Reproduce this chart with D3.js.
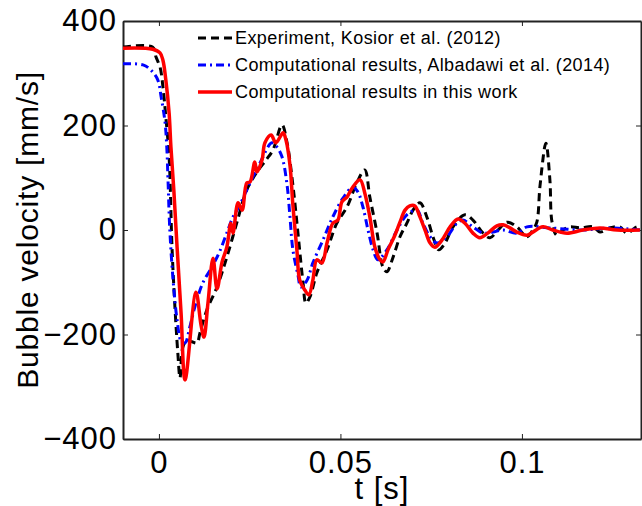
<!DOCTYPE html>
<html>
<head>
<meta charset="utf-8">
<script src="https://cdn.jsdelivr.net/npm/d3@7"></script>
<style>
  body { margin: 0; background: #fff; }
  text { font-family: "Liberation Sans", Arial, sans-serif; }
</style>
</head>
<body>
<div id="vis"></div>
<script>
const FRAME_WIDTH = 642;
const FRAME_HEIGHT = 506;
const MARGINS = {left: 123, right: 1, top: 21, bottom: 67};

// tick values
const X_TICKS = [0, 0.05, 0.1];
const Y_TICKS = [-400, -200, 0, 200, 400];

// legend labels
const LABELS = ["Experiment, Kosior et al. (2012)",
                "Computational results, Albadawi et al. (2014)",
                "Computational results in this work"];

// Experiment (black dashed)
const EXP_T = [-0.0099, -0.0017, -0.0008, 0.0003, 0.0011, 0.0019, 0.0028, 0.0036, 0.0044, 0.0052,
  0.0058, 0.0066, 0.0077, 0.0091, 0.0105, 0.0113, 0.0132, 0.0160, 0.0187, 0.0215,
  0.0242, 0.0270, 0.0295, 0.0314, 0.0339, 0.0353, 0.0369, 0.0383, 0.0397, 0.0405,
  0.0416, 0.0435, 0.0463, 0.0490, 0.0518, 0.0545, 0.0567, 0.0581, 0.0601, 0.0617,
  0.0628, 0.0645, 0.0664, 0.0683, 0.0700, 0.0719, 0.0738, 0.0755, 0.0771, 0.0788,
  0.0810, 0.0843, 0.0865, 0.0893, 0.0912, 0.0934, 0.0959, 0.0986, 0.1014, 0.1030,
  0.1041, 0.1050, 0.1066, 0.1077, 0.1083, 0.1096, 0.1113, 0.1132, 0.1160, 0.1196,
  0.1215, 0.1242, 0.1270, 0.1289, 0.1317, 0.1328];
const EXP_V = [350, 350, 331, 312, 274, 216, 140, -33, -147, -235,
  -283, -224, -211, -214, -216, -197, -153, -109, -52, 15,
  77, 111, 134, 153, 201, 167, 86, -6, -101, -140,
  -128, -82, -38, 13, 44, 90, 115, 63, -6, -71,
  -80, -52, -13, 13, 38, 52, 25, -13, -38, -25,
  6, 29, 19, -6, -15, 0, 15, 6, -13, 0,
  15, 86, 166, 96, 15, -10, 0, 6, 4, 6,
  -4, 4, 6, -6, 6, 4];

// Albadawi et al. (blue dash-dot)
const ALB_T = [-0.0099, -0.0044, -0.0022, -0.0003, 0.0006, 0.0017, 0.0022, 0.0025, 0.0030, 0.0039,
  0.0050, 0.0061, 0.0072, 0.0085, 0.0099, 0.0121, 0.0146, 0.0168, 0.0190, 0.0204,
  0.0223, 0.0242, 0.0278, 0.0311, 0.0325, 0.0339, 0.0353, 0.0361, 0.0369, 0.0383,
  0.0391, 0.0408, 0.0424, 0.0452, 0.0479, 0.0507, 0.0534, 0.0548, 0.0562, 0.0576,
  0.0590, 0.0603, 0.0628, 0.0656, 0.0683, 0.0711, 0.0727, 0.0747, 0.0766, 0.0793,
  0.0821, 0.0837, 0.0865, 0.0893, 0.0920, 0.0948, 0.0986, 0.1014, 0.1077, 0.1168,
  0.1242, 0.1325];
const ALB_V = [318, 316, 306, 287, 255, 205, 153, 96, 0, -96,
  -172, -212, -216, -186, -147, -101, -71, -40, 0, 25,
  48, 77, 128, 167, 159, 140, 86, 25, -38, -86,
  -109, -96, -63, -19, 25, 61, 82, 73, 44, 0,
  -38, -57, -38, 0, 29, 38, 13, -13, -25, -13,
  13, 19, 6, -6, -4, 0, -6, 6, 4, 0,
  4, 0];

// this work (red solid)
const WORK_T = [-0.0099, -0.0017, 0.0003, 0.0011, 0.0019, 0.0028, 0.0033, 0.0041, 0.0050, 0.0061,
  0.0072, 0.0102, 0.0116, 0.0124, 0.0135, 0.0149, 0.0160, 0.0174, 0.0187, 0.0198,
  0.0204, 0.0218, 0.0229, 0.0242, 0.0251, 0.0264, 0.0270, 0.0284, 0.0292, 0.0309,
  0.0322, 0.0342, 0.0350, 0.0361, 0.0369, 0.0380, 0.0388, 0.0402, 0.0413, 0.0424,
  0.0435, 0.0449, 0.0463, 0.0479, 0.0493, 0.0504, 0.0518, 0.0532, 0.0554, 0.0567,
  0.0581, 0.0595, 0.0609, 0.0617, 0.0631, 0.0650, 0.0664, 0.0678, 0.0691, 0.0705,
  0.0719, 0.0733, 0.0747, 0.0760, 0.0780, 0.0802, 0.0824, 0.0843, 0.0865, 0.0884,
  0.0906, 0.0931, 0.0948, 0.0967, 0.0986, 0.1014, 0.1030, 0.1058, 0.1085, 0.1124,
  0.1168, 0.1215, 0.1262, 0.1325];
const WORK_V = [348, 346, 339, 325, 287, 224, 159, 77, -33, -159,
  -287, -119, -182, -205, -140, -54, -113, -61, -33, 13,
  -6, 52, 38, 90, 92, 130, 111, 134, 167, 182,
  167, 186, 172, 124, 48, -38, -96, -115, -124, -96,
  -57, -63, -25, 13, 19, 54, 63, 80, 96, 71,
  25, -33, -57, -61, -38, -10, 15, 38, 46, 46,
  25, 0, -25, -33, -19, 6, 21, 13, -6, -15,
  -6, 8, 10, 4, -4, -10, -4, 6, 0, -6,
  0, 4, 0, 0];

const VIS_WIDTH = FRAME_WIDTH - MARGINS.left - MARGINS.right;
const VIS_HEIGHT = FRAME_HEIGHT - MARGINS.top - MARGINS.bottom;

const FRAME = d3.select("#vis")
  .append("svg")
    .attr("width", FRAME_WIDTH)
    .attr("height", FRAME_HEIGHT);

const X_SCALE = d3.scaleLinear().domain([-0.0099, 0.1328]).range([0, VIS_WIDTH]);
const Y_SCALE = d3.scaleLinear().domain([-400, 400]).range([VIS_HEIGHT, 0]);

const G = FRAME.append("g")
  .attr("transform", "translate(" + MARGINS.left + "," + MARGINS.top + ")");

G.append("clipPath").attr("id", "clip")
  .append("rect").attr("width", VIS_WIDTH).attr("height", VIS_HEIGHT);

const fmtX = (d) => d === 0 ? "0" : d3.format("")(d);

// axes, ticks pointing inwards
const xBottom = G.append("g")
  .attr("transform", "translate(0," + VIS_HEIGHT + ")")
  .call(d3.axisBottom(X_SCALE).tickValues(X_TICKS).tickSizeInner(-5).tickSizeOuter(0).tickFormat(fmtX));
const xTop = G.append("g")
  .call(d3.axisTop(X_SCALE).tickValues(X_TICKS).tickSizeInner(-5).tickSizeOuter(0).tickFormat(""));
const yLeft = G.append("g")
  .call(d3.axisLeft(Y_SCALE).tickValues(Y_TICKS).tickSizeInner(-5).tickSizeOuter(0).tickPadding(6));
const yRight = G.append("g")
  .attr("transform", "translate(" + VIS_WIDTH + ",0)")
  .call(d3.axisRight(Y_SCALE).tickValues(Y_TICKS).tickSizeInner(-5).tickSizeOuter(0).tickFormat(""));

[xBottom, xTop, yLeft, yRight].forEach((a) => {
  a.select(".domain").attr("stroke", "#222").attr("stroke-width", 2);
  a.selectAll(".tick line").attr("stroke", "#222").attr("stroke-width", 1);
  a.selectAll("text").attr("font-size", "31px").attr("fill", "#000")
    .attr("letter-spacing", "1px")
    .attr("font-family", "'Liberation Sans', Arial, sans-serif");
});
xBottom.selectAll("text").attr("y", 34).attr("dy", 0);

// series lines
const line = d3.line()
  .x((d) => X_SCALE(d[0]))
  .y((d) => Y_SCALE(d[1]))
  .curve(d3.curveCatmullRom.alpha(0.5));

const SERIES = [
  {t: EXP_T, v: EXP_V, color: "#000000", dash: "8,5", width: 3},
  {t: ALB_T, v: ALB_V, color: "#0000ff", dash: "8,4,2,4", width: 3},
  {t: WORK_T, v: WORK_V, color: "#ff0000", dash: null, width: 3.5}
];

G.append("g").attr("clip-path", "url(#clip)")
  .selectAll("path")
  .data(SERIES)
  .enter()
  .append("path")
    .attr("d", (s) => line(s.t.map((t, i) => [t, s.v[i]])))
    .attr("fill", "none")
    .attr("stroke", (s) => s.color)
    .attr("stroke-width", (s) => s.width)
    .attr("stroke-dasharray", (s) => s.dash);

// legend
const LEG = FRAME.append("g").attr("transform", "translate(198,38)");
SERIES.forEach((s, i) => {
  LEG.append("line")
    .attr("x1", 0).attr("x2", 34)
    .attr("y1", i * 27).attr("y2", i * 27)
    .attr("stroke", s.color)
    .attr("stroke-width", s.width)
    .attr("stroke-dasharray", s.dash);
  LEG.append("text")
    .attr("x", 37).attr("y", i * 27 + 6)
    .attr("font-size", "18px")
    .attr("letter-spacing", "0.4px")
    .text(LABELS[i]);
});

// axis labels
FRAME.append("text")
  .attr("x", MARGINS.left + VIS_WIDTH / 2)
  .attr("y", 499)
  .attr("text-anchor", "middle")
  .attr("font-size", "31px")
  .attr("letter-spacing", "1px")
  .text("t [s]");

FRAME.append("text")
  .attr("transform", "translate(38," + (MARGINS.top + VIS_HEIGHT / 2) + ") rotate(-90)")
  .attr("text-anchor", "middle")
  .attr("font-size", "30px")
  .attr("letter-spacing", "0.8px")
  .text("Bubble velocity [mm/s]");
</script>
</body>
</html>
